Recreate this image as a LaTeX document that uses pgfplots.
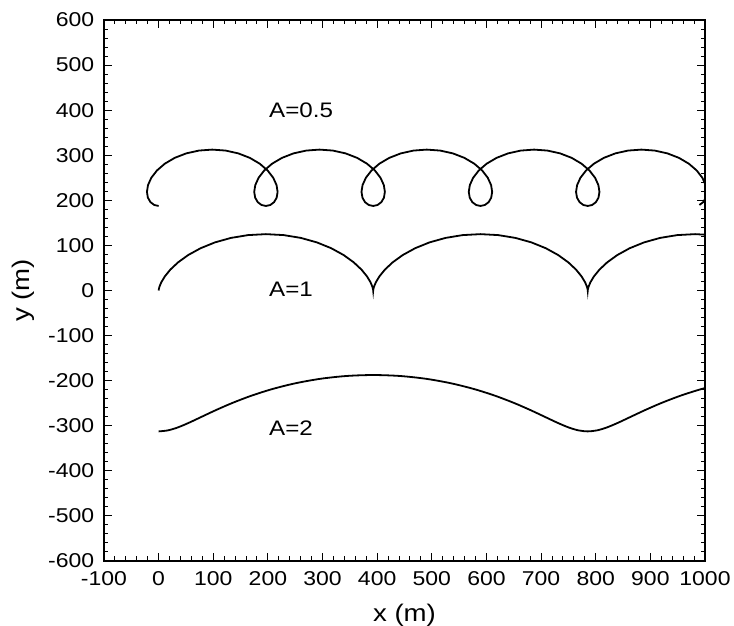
\documentclass[border=0pt]{standalone}
\usepackage{fontspec}
\setmainfont{Liberation Sans}[FakeStretch=1.15]
\usepackage{pgfplots}
\pgfplotsset{compat=1.18}
\begin{document}
\begin{tikzpicture}
\begin{axis}[
  name=ax,
  scale only axis, width=601pt, height=541pt,
  xmin=-100, xmax=1000, ymin=-600, ymax=600,
  xtick={-100,0,100,200,300,400,500,600,700,800,900,1000},
  ytick={-600,-500,-400,-300,-200,-100,0,100,200,300,400,500,600},
  xticklabels={-100,0,100,200,300,400,500,600,700,800,900,1000},
  yticklabels={-600,-500,-400,-300,-200,-100,0,100,200,300,400,500,600},
  minor x tick num=4, minor y tick num=4,
  tick align=inside, major tick length=8pt, minor tick length=4.5pt,
  tick style={line width=1pt, black},
  axis line style={line width=1.4pt},
  tick label style={font=\fontsize{20}{20}\selectfont},
  xticklabel style={yshift=-7.3pt},
  yticklabel style={xshift=-6.3pt},
  xlabel={x (m)}, ylabel={y (m)},
  every axis x label/.style={at={(axis description cs:0.5,-0.1122)}, anchor=base, font=\fontsize{24}{24}\selectfont},
  every axis y label/.style={at={(axis description cs:-0.134,0.5)}, anchor=center, rotate=90, font=\fontsize{24}{24}\selectfont},
]
% A=0.5
\addplot[black, line width=1.8pt] coordinates {
(0,187.5)(-8.00,189.63)(-14.89,195.87)(-19.65,205.81)(-21.41,218.75)(-19.46,233.82)(-13.41,250)(-3.10,266.18)(11.32,281.25)(29.44,294.19)(50.56,304.13)(73.81,310.37)(98.17,312.5)(122.54,310.37)(145.79,304.13)(166.91,294.19)(185.03,281.25)(199.45,266.18)(209.76,250)(215.81,233.82)(217.75,218.75)(216.00,205.81)(211.24,195.87)(204.35,189.63)
(196.35,187.5)(188.35,189.63)(181.46,195.87)(176.70,205.81)(174.94,218.75)(176.89,233.82)(182.94,250)(193.25,266.18)(207.67,281.25)(225.79,294.19)(246.91,304.13)(270.16,310.37)(294.52,312.5)(318.89,310.37)(342.14,304.13)(363.26,294.19)(381.38,281.25)(395.80,266.18)(406.11,250)(412.16,233.82)(414.10,218.75)(412.35,205.81)(407.59,195.87)(400.70,189.63)
(392.70,187.5)(384.70,189.63)(377.81,195.87)(373.05,205.81)(371.29,218.75)(373.24,233.82)(379.29,250)(389.60,266.18)(404.02,281.25)(422.14,294.19)(443.26,304.13)(466.51,310.37)(490.87,312.5)(515.24,310.37)(538.49,304.13)(559.61,294.19)(577.73,281.25)(592.15,266.18)(602.46,250)(608.51,233.82)(610.45,218.75)(608.70,205.81)(603.94,195.87)(597.05,189.63)
(589.05,187.5)(581.05,189.63)(574.16,195.87)(569.40,205.81)(567.64,218.75)(569.59,233.82)(575.64,250)(585.95,266.18)(600.37,281.25)(618.49,294.19)(639.61,304.13)(662.86,310.37)(687.22,312.5)(711.59,310.37)(734.84,304.13)(755.96,294.19)(774.08,281.25)(788.50,266.18)(798.81,250)(804.86,233.82)(806.80,218.75)(805.05,205.81)(800.29,195.87)(793.40,189.63)
(785.40,187.5)(777.40,189.63)(770.51,195.87)(765.75,205.81)(763.99,218.75)(765.94,233.82)(771.99,250)(782.30,266.18)(796.72,281.25)(814.84,294.19)(835.96,304.13)(859.21,310.37)(883.57,312.5)(907.94,310.37)(931.19,304.13)(952.31,294.19)(970.43,281.25)(984.85,266.18)(995.16,250)(1001.21,233.82)(1003.15,218.75)(1001.40,205.81)(996.64,195.87)(989.75,189.63)
};
% A=1
\addplot[black, line width=1.8pt] coordinates {
(0,0)(0.18,2.13)(1.47,8.37)(4.90,18.31)(11.32,31.25)(21.44,46.32)(35.67,62.5)(54.17,78.68)(76.77,93.75)(103.07,106.69)(132.37,116.63)(163.81,122.87)(196.35,125)(228.89,122.87)(260.32,116.63)(289.63,106.69)(315.93,93.75)(338.53,78.68)(357.02,62.5)(371.26,46.32)(381.38,31.25)(387.80,18.31)(391.22,8.37)(392.52,2.13)
(392.70,0)(392.88,2.13)(394.17,8.37)(397.60,18.31)(404.02,31.25)(414.14,46.32)(428.37,62.5)(446.87,78.68)(469.47,93.75)(495.77,106.69)(525.07,116.63)(556.51,122.87)(589.05,125)(621.59,122.87)(653.02,116.63)(682.33,106.69)(708.63,93.75)(731.23,78.68)(749.72,62.5)(763.96,46.32)(774.08,31.25)(780.50,18.31)(783.92,8.37)(785.22,2.13)
(785.40,0)(785.58,2.13)(786.87,8.37)(790.30,18.31)(796.72,31.25)(806.84,46.32)(821.07,62.5)(839.57,78.68)(862.17,93.75)(888.47,106.69)(917.77,116.63)(949.21,122.87)(981.75,125)(1014.29,122.87)
};
% A=2
\addplot[black, line width=1.8pt, smooth] coordinates {
(0,-312.5)(16.54,-310.37)(34.20,-304.13)(53.98,-294.19)(76.77,-281.25)(103.25,-266.18)(133.85,-250)(168.70,-233.82)(207.67,-218.75)(250.33,-205.81)(296.00,-195.87)(343.79,-189.63)(392.70,-187.5)(441.60,-189.63)(489.40,-195.87)(535.06,-205.81)(577.73,-218.75)(616.69,-233.82)(651.55,-250)(682.14,-266.18)(708.63,-281.25)(731.41,-294.19)(751.20,-304.13)(768.85,-310.37)(785.40,-312.5)
(801.94,-310.37)(819.60,-304.13)(839.38,-294.19)(862.17,-281.25)(888.65,-266.18)(919.25,-250)(954.10,-233.82)(993.07,-218.75)(1035.73,-205.81)
};
\node[anchor=west, inner sep=0pt, font=\fontsize{21}{21}\selectfont] at (axis cs:202,400) {A=0.5};
\node[anchor=west, inner sep=0pt, font=\fontsize{21}{21}\selectfont] at (axis cs:202,2) {A=1};
\node[anchor=west, inner sep=0pt, font=\fontsize{21}{21}\selectfont] at (axis cs:202,-306) {A=2};
\end{axis}
\pgfresetboundingbox
\path ([shift={(-104pt,-65pt)}]ax.south west) rectangle ([shift={(29pt,20pt)}]ax.north east);
\end{tikzpicture}
\end{document}
